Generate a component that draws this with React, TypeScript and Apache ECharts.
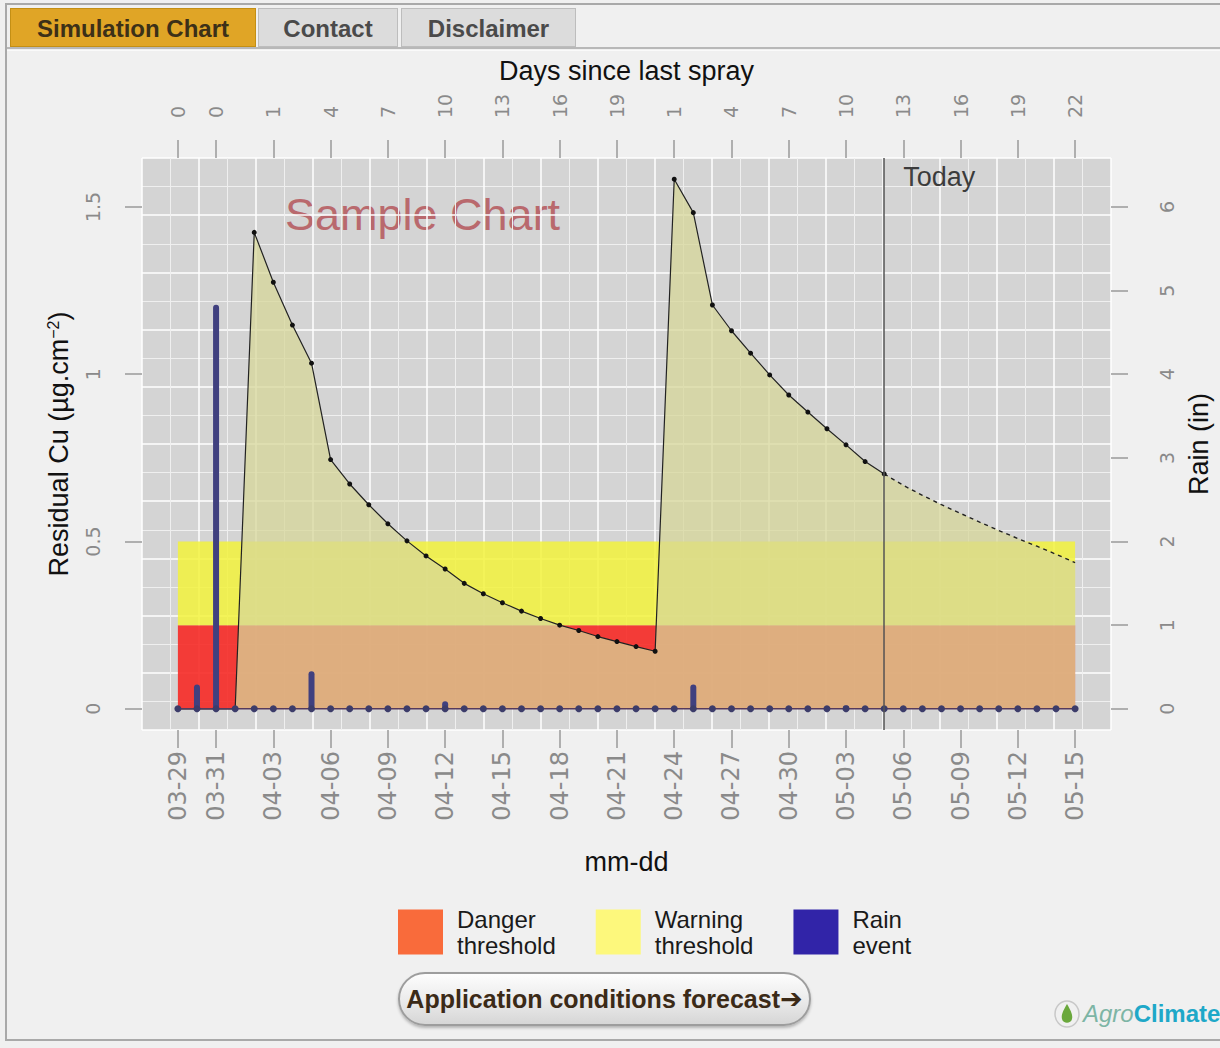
import React, { useEffect, useRef } from 'react';
import * as echarts from 'echarts';

// ---------- data ----------
const dates = [
  '03-29', '03-30', '03-31', '04-01', '04-02', '04-03', '04-04', '04-05', '04-06', '04-07',
  '04-08', '04-09', '04-10', '04-11', '04-12', '04-13', '04-14', '04-15', '04-16', '04-17',
  '04-18', '04-19', '04-20', '04-21', '04-22', '04-23', '04-24', '04-25', '04-26', '04-27',
  '04-28', '04-29', '04-30', '05-01', '05-02', '05-03', '05-04', '05-05', '05-06', '05-07',
  '05-08', '05-09', '05-10', '05-11', '05-12', '05-13', '05-14', '05-15',
];
const tickDates = [
  '03-29', '03-31', '04-03', '04-06', '04-09', '04-12', '04-15', '04-18', '04-21',
  '04-24', '04-27', '04-30', '05-03', '05-06', '05-09', '05-12', '05-15',
];
const daysSinceSpray = ['0', '0', '1', '4', '7', '10', '13', '16', '19', '1', '4', '7', '10', '13', '16', '19', '22'];

// residual copper, observed (03-29 .. 05-05)
const cuObserved = [
  0, 0, 0, 0,
  1.424, 1.275, 1.147, 1.033, 0.745, 0.672, 0.61, 0.553, 0.502, 0.457, 0.418, 0.375,
  0.344, 0.317, 0.292, 0.27, 0.25, 0.234, 0.216, 0.201, 0.186, 0.172,
  1.583, 1.483, 1.207, 1.13, 1.063, 0.998, 0.938, 0.887, 0.837, 0.789, 0.739, 0.702,
];
// forecast (05-05 .. 05-15)
const cuForecast = [0.702, 0.668, 0.638, 0.61, 0.584, 0.558, 0.533, 0.509, 0.486, 0.462, 0.437];

// rain (in) per day
const rainIn = [
  0, 0.29, 4.83, 0, 0, 0, 0, 0.45, 0, 0,
  0, 0, 0, 0, 0.09, 0, 0, 0, 0, 0,
  0, 0, 0, 0, 0, 0, 0, 0.29, 0, 0,
  0, 0, 0, 0, 0, 0.04, 0, 0, 0, 0,
  0, 0, 0, 0, 0, 0, 0, 0,
];

const dangerLevel = 0.25;
const warningLevel = 0.5;
const todayDate = '05-05';
const cuTicks = [0, 0.5, 1, 1.5];
const rainTicks = [0, 1, 2, 3, 4, 5, 6];
const rainPerCu = 4;

export default function App() {
  const ref = useRef<HTMLDivElement>(null);

  useEffect(() => {
    if (!ref.current) return;
    const chart = echarts.init(ref.current, undefined, { renderer: 'svg' });

    const n = dates.length;
    const last = n - 1;
    const xPad = 0.04 * last;
    const xMin = -xPad;
    const xMax = last + xPad;
    const cuMax = Math.max(...cuObserved, ...cuForecast);
    const yMin = -0.04 * cuMax;
    const yMax = cuMax * 1.04;
    const tickIdx = tickDates.map((d) => dates.indexOf(d));
    const todayIdx = dates.indexOf(todayDate);

    const obsData = cuObserved.map((v, i) => [i, v]);
    const fcData = cuForecast.map((v, i) => [todayIdx + i, v]);
    const rainBars = rainIn.map((v, i) => [i, v]);
    const rainBase = rainIn.map((_, i) => [i, 0]);

    const tickLine = { color: '#9a9a9a', width: 1.5 };
    const tickFont = { color: '#8a8a8a', fontFamily: 'DejaVu Sans' };
    const titleFont = { color: '#111', fontFamily: 'Liberation Sans', fontSize: 27 };
    const areaFill = 'rgba(214,214,152,0.74)';
    const noLine = { show: false, onZero: false };

    const option: any = {
      animation: false,
      textStyle: { fontFamily: 'Liberation Sans' },
      grid: {
        left: 142, top: 158, width: 972, height: 572,
        show: true, backgroundColor: '#d4d4d4', borderWidth: 0,
      },
      xAxis: [
        {
          type: 'value', position: 'bottom', min: xMin, max: xMax,
          axisLine: noLine, splitLine: { show: false },
          axisTick: { show: true, customValues: tickIdx, length: 18, lineStyle: tickLine },
          axisLabel: {
            customValues: tickIdx, rotate: 90, margin: 21, fontSize: 24, ...tickFont,
            formatter: (v: number) => dates[Math.round(v)],
          },
          name: 'mm-dd', nameLocation: 'middle', nameGap: 118, nameTextStyle: titleFont,
        },
        {
          type: 'value', position: 'top', min: xMin, max: xMax,
          axisLine: noLine, splitLine: { show: false },
          axisTick: { show: true, customValues: tickIdx, length: 18, lineStyle: tickLine },
          axisLabel: {
            customValues: tickIdx, rotate: -90, margin: 40, fontSize: 19, ...tickFont,
            formatter: (v: number) => daysSinceSpray[tickIdx.indexOf(Math.round(v))],
          },
          name: 'Days since last spray', nameLocation: 'middle', nameGap: 74, nameTextStyle: titleFont,
        },
        {
          type: 'value', min: 0, max: 34, interval: 2,
          axisLine: noLine, axisTick: { show: false }, axisLabel: { show: false },
          splitLine: { show: true, lineStyle: { color: '#ffffff', width: 1.5 } },
          minorTick: { show: false, splitNumber: 2 },
          minorSplitLine: { show: true, lineStyle: { color: '#efefef', width: 1 } },
        },
      ],
      yAxis: [
        {
          type: 'value', position: 'left', min: yMin, max: yMax,
          axisLine: noLine, splitLine: { show: false },
          axisTick: { show: true, customValues: cuTicks, length: 17, lineStyle: tickLine },
          axisLabel: { customValues: cuTicks, rotate: 90, margin: 40, fontSize: 19, ...tickFont },
          name: 'Residual Cu (µg.cm{sup|−2})', nameLocation: 'middle', nameRotate: 90, nameGap: 70,
          nameTextStyle: {
            ...titleFont,
            rich: { sup: { fontSize: 16, verticalAlign: 'top', fontFamily: 'Liberation Sans', color: '#111' } },
          },
        },
        {
          type: 'value', position: 'right', min: yMin * rainPerCu, max: yMax * rainPerCu,
          axisLine: noLine, splitLine: { show: false },
          axisTick: { show: true, customValues: rainTicks, length: 17, lineStyle: tickLine },
          axisLabel: { customValues: rainTicks, rotate: 90, margin: 46, fontSize: 19, ...tickFont },
          name: 'Rain (in)', nameLocation: 'middle', nameRotate: 90, nameGap: 74, nameTextStyle: titleFont,
        },
        {
          type: 'value', min: 0, max: 20, interval: 2,
          axisLine: noLine, axisTick: { show: false }, axisLabel: { show: false },
          splitLine: { show: true, lineStyle: { color: '#ffffff', width: 1.5 } },
          minorTick: { show: false, splitNumber: 2 },
          minorSplitLine: { show: true, lineStyle: { color: '#efefef', width: 1 } },
        },
      ],
      legend: {
        left: 398, top: 906, padding: 0, itemWidth: 45, itemHeight: 45, itemGap: 40, icon: 'rect',
        selectedMode: false,
        data: [
          { name: 'Danger threshold', itemStyle: { color: '#f96b3b', borderWidth: 0, opacity: 1 } },
          { name: 'Warning threshold', itemStyle: { color: '#fdf87c', borderWidth: 0, opacity: 1 } },
          { name: 'Rain event', itemStyle: { color: '#3124a8', borderWidth: 0, opacity: 1 } },
        ],
        formatter: (name: string) => name.replace(' ', '\n'),
        textStyle: { fontSize: 24, lineHeight: 26, color: '#1a1a1a', padding: [0, 0, 0, 9], fontFamily: 'Liberation Sans' },
      },
      graphic: [
        {
          type: 'text', left: 285, top: 192, z: 0,
          style: { text: 'Sample Chart', fontSize: 45, fill: '#b9696d', fontFamily: 'Liberation Sans' },
        },
      ],
      series: [
        {
          name: 'Danger threshold', type: 'line', xAxisIndex: 0, yAxisIndex: 0, data: [],
          itemStyle: { color: '#f96b3b' }, silent: true,
          markArea: {
            silent: true,
            itemStyle: { color: 'rgba(246,42,38,0.9)' },
            data: [[{ xAxis: 0, yAxis: 0 }, { xAxis: last, yAxis: dangerLevel }]],
          },
        },
        {
          name: 'Warning threshold', type: 'line', xAxisIndex: 0, yAxisIndex: 0, data: [],
          itemStyle: { color: '#fdf87c' }, silent: true,
          markArea: {
            silent: true,
            itemStyle: { color: 'rgba(242,242,62,0.86)' },
            data: [[{ xAxis: 0, yAxis: dangerLevel }, { xAxis: last, yAxis: warningLevel }]],
          },
        },
        {
          name: 'Residual Cu', type: 'line', xAxisIndex: 0, yAxisIndex: 0, data: obsData, z: 2,
          symbol: 'circle', symbolSize: 5, silent: true,
          itemStyle: { color: '#111' },
          lineStyle: { color: '#222', width: 1.2 },
          areaStyle: { color: areaFill, opacity: 1 },
        },
        {
          name: 'Residual Cu forecast', type: 'line', xAxisIndex: 0, yAxisIndex: 0, data: fcData, z: 2,
          symbol: 'none', silent: true,
          lineStyle: { color: '#222', width: 1.4, type: [4, 4] },
          areaStyle: { color: areaFill, opacity: 1 },
        },
        {
          name: 'Rain event', type: 'bar', xAxisIndex: 0, yAxisIndex: 1, data: rainBars, z: 3,
          barWidth: 6, silent: true,
          itemStyle: { color: '#40407f', borderRadius: 3 },
        },
        {
          name: 'Rain baseline', type: 'line', xAxisIndex: 0, yAxisIndex: 1, data: rainBase, z: 4,
          symbol: 'circle', symbolSize: 7, silent: true,
          itemStyle: { color: '#3c3c6a' },
          lineStyle: { color: '#563a5c', width: 1.5 },
        },
        {
          name: 'Today', type: 'scatter', xAxisIndex: 0, yAxisIndex: 0, z: 5,
          data: [[todayIdx, 1.59]], symbolSize: 0, silent: true,
          label: {
            show: true, formatter: 'Today', position: 'right', distance: 19,
            fontSize: 27, color: '#111', fontFamily: 'Liberation Sans',
          },
          markLine: {
            silent: true, symbol: ['none', 'none'], label: { show: false },
            lineStyle: { color: '#555555', width: 1.5, type: 'solid' },
            data: [{ xAxis: todayIdx }],
          },
        },
      ],
    };

    chart.setOption(option);
    return () => chart.dispose();
  }, []);

  const tab: React.CSSProperties = {
    position: 'absolute', top: 8, height: 39, lineHeight: '39px', textAlign: 'center',
    fontWeight: 'bold', fontSize: 24, boxSizing: 'border-box', fontFamily: 'Liberation Sans, Arial, sans-serif',
  };

  return (
    <div
      style={{
        position: 'absolute', left: 0, top: 0, width: 1220, height: 1048, overflow: 'hidden',
        background: '#f0f0f0', fontFamily: 'Liberation Sans, Arial, sans-serif',
      }}
    >
      <div
        style={{
          position: 'absolute', left: 5, top: 3, width: 1300, height: 1038, boxSizing: 'border-box',
          border: '2px solid #a9a9a9',
        }}
      />
      <div style={{ position: 'absolute', left: 7, top: 47, width: 1300, height: 0, borderTop: '2px solid #b8b8b8' }} />
      <div style={{ position: 'absolute', left: 7, top: 50, width: 1300, height: 0, borderTop: '1px solid #fafafa' }} />

      <div style={{ ...tab, left: 10, width: 246, background: '#e0a526', color: '#3c3018', border: '1px solid #c48f14' }}>
        Simulation Chart
      </div>
      <div style={{ ...tab, left: 258, width: 140, background: '#dcdcdc', color: '#4a4a4a', border: '1px solid #bdbdbd' }}>
        Contact
      </div>
      <div style={{ ...tab, left: 401, width: 175, background: '#dcdcdc', color: '#4a4a4a', border: '1px solid #bdbdbd' }}>
        Disclaimer
      </div>

      <div ref={ref} style={{ position: 'absolute', left: 0, top: 0, width: 1220, height: 1048 }} />

      <div
        style={{
          position: 'absolute', left: 398, top: 972, width: 413, height: 54, borderRadius: 27,
          border: '2px solid #9d9d9d', boxSizing: 'border-box',
          background: 'linear-gradient(#fdfdfd, #ececec 50%, #d6d6d6)',
          boxShadow: '0 2px 3px rgba(0,0,0,0.25)', textAlign: 'center', lineHeight: '50px',
          fontWeight: 'bold', fontSize: 25, color: '#3b2a17', whiteSpace: 'nowrap',
        }}
      >
        Application conditions forecast<span style={{ fontFamily: 'DejaVu Sans', fontSize: 27, fontWeight: 'bold' }}>➔</span>
      </div>

      <div style={{ position: 'absolute', left: 1053, top: 999, display: 'flex', alignItems: 'center', whiteSpace: 'nowrap' }}>
        <svg width="28" height="30" viewBox="0 0 28 30">
          <ellipse cx="14" cy="15" rx="12" ry="13" fill="none" stroke="#c8c8c8" strokeWidth="1.5" />
          <path d="M14 5 C 10 12, 8 16, 9 20 C 10 25, 18 25, 19 20 C 20 16, 18 12, 14 5 Z" fill="#6aa83c" />
        </svg>
        <span style={{ fontStyle: 'italic', color: '#7db5a5', fontSize: 24, marginLeft: 2 }}>Agro</span>
        <span style={{ fontWeight: 'bold', color: '#1ea8c8', fontSize: 24 }}>Climate</span>
      </div>
    </div>
  );
}
